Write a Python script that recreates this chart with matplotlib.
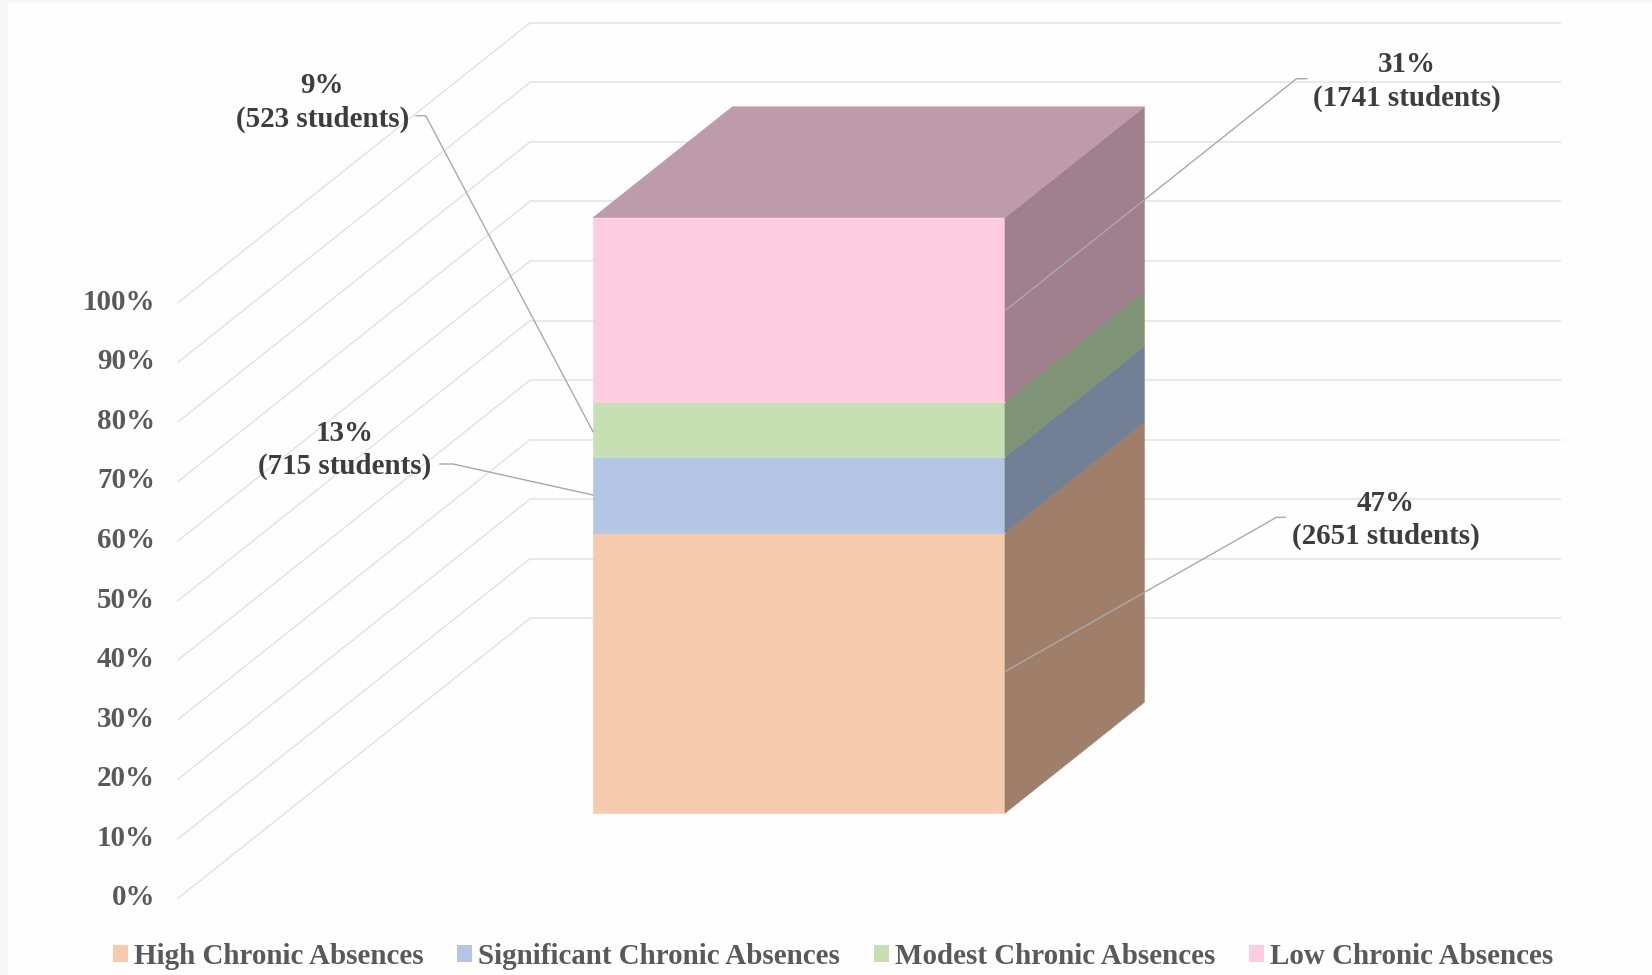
import matplotlib
matplotlib.use("Agg")
import matplotlib.pyplot as plt
from matplotlib.patches import Patch, Polygon, Rectangle

# Data
categories = ["High Chronic Absences", "Significant Chronic Absences",
              "Modest Chronic Absences", "Low Chronic Absences"]
students = [2651, 715, 523, 1741]
percent_labels = ["47%", "13%", "9%", "31%"]
tick_values = [0, 10, 20, 30, 40, 50, 60, 70, 80, 90, 100]

front_colors = ["#F6CAAC", "#B3C6E5", "#C6E0B4", "#FECCE1"]
side_colors = ["#9F7F6A", "#728095", "#7F9376", "#A1808E"]
top_color = "#BE9BA8"

# Oblique projection of the chart box into figure pixels
ORIGIN_X, ORIGIN_Y = 178, 898.3
WIDTH_PX, DEPTH_X, DEPTH_Y, VALUE_PX = 1030, 352, 280, 5.955
BAR_U = (0.299, 0.699)
BAR_D = (0.304, 0.7)
FONT_SIZE = 20.9


def project(u, d, v):
    return ORIGIN_X + WIDTH_PX * u + DEPTH_X * d, ORIGIN_Y - DEPTH_Y * d - VALUE_PX * v


def face(ax, corners, color, z=3):
    ax.add_patch(Polygon([project(*c) for c in corners], closed=True,
                         facecolor=color, edgecolor=color, lw=0.4, zorder=z))


fig = plt.figure(figsize=(16.52, 9.75), dpi=100, facecolor="#fefefe")
ax = fig.add_axes([0, 0, 1, 1])
ax.set_xlim(0, 1652)
ax.set_ylim(975, 0)
ax.axis("off")

serif = ["Liberation Serif", "DejaVu Serif"]

# Scan edge of the source picture
ax.add_patch(Rectangle((0, 0), 8, 975, facecolor="#f7f7f7", edgecolor="none", zorder=0))
ax.add_patch(Rectangle((0, 0), 1652, 2.5, facecolor="#f7f7f7", edgecolor="none", zorder=0))

# Walls and tick labels
for v in tick_values:
    x0, y0 = project(0, 0, v)
    x1, y1 = project(0, 1, v)
    x2, y2 = project(1, 1, v)
    ax.plot([x0, x1], [y0, y1], color="#e2e2e2", lw=1.0, zorder=1)
    ax.plot([x1, x2], [y1, y2], color="#e9e9e9", lw=1.5, zorder=1)
    ax.text(155, y0 - 0.5, f"{v}%", ha="right", va="center", family=serif,
            weight="bold", fontsize=FONT_SIZE, color="#595959", zorder=5)

# Stacked bar, values as share of all students
total = sum(students)
base = 0
u0, u1 = BAR_U
d0, d1 = BAR_D
for count, front, side in zip(students, front_colors, side_colors):
    top = base + 100 * count / total
    face(ax, [(u0, d0, base), (u1, d0, base), (u1, d0, top), (u0, d0, top)], front)
    face(ax, [(u1, d0, base), (u1, d1, base), (u1, d1, top), (u1, d0, top)], side)
    base = top
face(ax, [(u0, d0, 100), (u1, d0, 100), (u1, d1, 100), (u0, d1, 100)], top_color)

# Data labels with leader lines
label_text = [f"{p}\n({n} students)" for p, n in zip(percent_labels, students)]
label_pos = [(1385.5, 520), (345, 450), (322.4, 102.5), (1407, 81.5)]
leaders = [
    [(1285.4, 517.3), (1276.5, 517.3), (1006, 671)],
    [(440, 464), (453, 464), (593, 495)],
    [(416, 115.7), (425.7, 115.7), (593, 431.7)],
    [(1307, 78.7), (1296.5, 78.7), (1006, 310)],
]
for text, (tx, ty), path in zip(label_text, label_pos, leaders):
    ax.plot([p[0] for p in path], [p[1] for p in path], color="#a9a9a9", lw=1.0, zorder=4)
    ax.text(tx, ty, text, ha="center", va="center", multialignment="center", family=serif,
            weight="bold", fontsize=FONT_SIZE, linespacing=1.3, color="#3d3d3d", zorder=5)

# Legend
handles = [Patch(facecolor=c, edgecolor="none") for c in front_colors]
ax.legend(handles, categories, ncol=4, loc="center", bbox_to_anchor=(833, 956),
          bbox_transform=ax.transData, frameon=False, borderaxespad=0, borderpad=0,
          handlelength=0.52, handleheight=0.52, handletextpad=0.2, columnspacing=1.17,
          labelcolor="#595959", prop={"family": serif, "weight": "bold", "size": FONT_SIZE})

fig.savefig("out.png", dpi=100, facecolor=fig.get_facecolor())
